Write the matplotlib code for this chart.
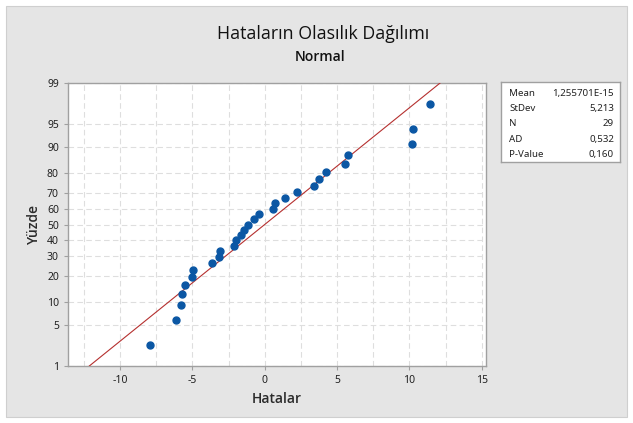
import matplotlib
matplotlib.use("Agg")
import matplotlib.pyplot as plt
from matplotlib.patches import Rectangle
from matplotlib.ticker import MultipleLocator
from statistics import NormalDist

# residuals, sorted
hatalar = [-7.90, -6.15, -5.78, -5.69, -5.53, -5.00, -4.93, -3.64, -3.15, -3.11,
           -2.11, -1.98, -1.61, -1.40, -1.15, -0.76, -0.39, 0.58, 0.69, 1.43,
           2.22, 3.41, 3.74, 4.27, 5.56, 5.79, 10.16, 10.28, 11.45]
# percent position of each point
yuzde = [2.4, 5.8, 9.2, 12.6, 16.0, 19.4, 22.8, 26.2, 29.6, 33.0,
         36.4, 39.8, 43.2, 46.6, 50.0, 53.4, 56.8, 60.2, 63.6, 67.0,
         70.4, 73.8, 77.2, 80.6, 84.0, 87.4, 90.8, 94.2, 97.6]

y_ticks = [1, 5, 10, 20, 30, 40, 50, 60, 70, 80, 90, 95, 99]
x_ticks = [-10, -5, 0, 5, 10, 15]

stat_names = ["Mean", "StDev", "N", "AD", "P-Value"]
stat_values = ["1,255701E-15", "5,213", "29", "0,532", "0,160"]
mean = 0.0
stdev = 5.213

plt.rcParams['font.family'] = ['Noto Sans', 'DejaVu Sans']
plt.rcParams['axes.unicode_minus'] = False

nd = NormalDist()
def z(p):
    return nd.inv_cdf(p / 100.0)

W, H = 633, 423
fig = plt.figure(figsize=(W / 100, H / 100), dpi=100, facecolor="white")

# gray panel
fig.patches.append(Rectangle((6 / W, 6 / H), 621 / W, 411 / H, transform=fig.transFigure,
                             facecolor="#e5e5e5", edgecolor="#cfcfcf", linewidth=0.8, zorder=-10))

ax = fig.add_axes([68 / W, (H - 366) / H, 418 / W, 283 / H])
ax.set_facecolor("white")

# fitted line
zlo, zhi = z(1), z(99)
ax.plot([mean + stdev * zlo, mean + stdev * zhi], [zlo, zhi], color="#b5302f", lw=0.8, zorder=3)

# points
ax.plot(hatalar, [z(p) for p in yuzde], "o", color="#0b57a4", markersize=5.0, zorder=4)

ax.set_xlim(-13.6, 15.3)
ax.set_ylim(zlo, zhi)
ax.set_yticks([z(p) for p in y_ticks])
ax.set_yticklabels([str(p) for p in y_ticks])
ax.set_xticks(x_ticks)
ax.xaxis.set_minor_locator(MultipleLocator(2.5))

ax.grid(True, which="both", axis="x", color="#dedede", linestyle=(0, (5, 3)), lw=0.8)
ax.grid(True, which="major", axis="y", color="#dedede", linestyle=(0, (5, 3)), lw=0.8)
ax.set_axisbelow(True)

for s in ax.spines.values():
    s.set_color("#a0a0a0")
    s.set_linewidth(1.0)
ax.tick_params(axis="both", which="major", labelsize=7.5, color="#a0a0a0", length=3, colors="#222222")
ax.tick_params(axis="x", which="minor", length=0)
for t in ax.get_xticklines() + ax.get_yticklines():
    t.set_color("#a0a0a0")

label_font = ['Open Sans', 'DejaVu Sans']
ax.set_xlabel("Hatalar", fontsize=10, fontweight="semibold", family=label_font, color="#2a2a2a", labelpad=4)
ax.set_ylabel("Yüzde", fontsize=10, fontweight="semibold", family=label_font, color="#2a2a2a", labelpad=4)

fig.text(323 / W, 1 - 34 / H, "Hataların Olasılık Dağılımı", ha="center", va="center",
         fontsize=12.8, family=label_font, color="#111111")
fig.text(320 / W, 1 - 57 / H, "Normal", ha="center", va="center", fontsize=10,
         family=label_font, fontweight="semibold", color="#111111")

# stats box
bx = fig.add_axes([501 / W, (H - 162) / H, 119 / W, 80 / H])
bx.set_xticks([])
bx.set_yticks([])
bx.set_facecolor("white")
for s in bx.spines.values():
    s.set_color("#a0a0a0")
    s.set_linewidth(1.0)
for i, (n, v) in enumerate(zip(stat_names, stat_values)):
    yy = 1 - (11.5 + 15.2 * i) / 80
    bx.text(0.07, yy, n, ha="left", va="center", fontsize=7, color="#222222", transform=bx.transAxes)
    bx.text(0.95, yy, v, ha="right", va="center", fontsize=7, color="#222222", transform=bx.transAxes)

fig.savefig("out.png", dpi=100, facecolor=fig.get_facecolor())
